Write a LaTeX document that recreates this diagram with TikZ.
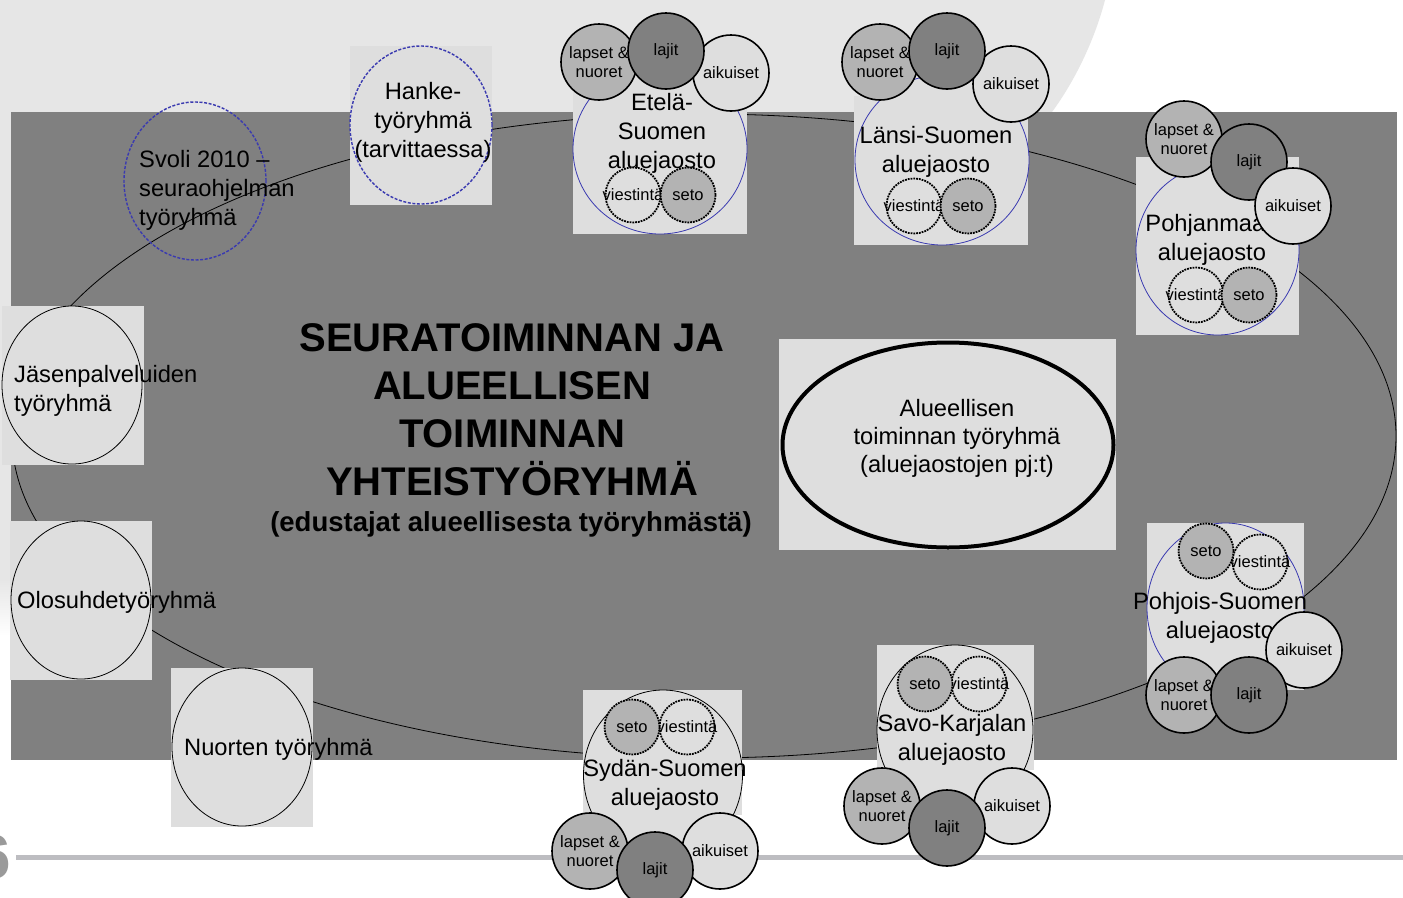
\documentclass[tikz,border=0pt]{standalone}
\usepackage{fontspec}
\setmainfont{Liberation Sans}
\usetikzlibrary{shapes.geometric}
\definecolor{bgl}{HTML}{E6E6E6}
\definecolor{rectg}{HTML}{808080}
\definecolor{lite}{HTML}{DEDEDE}
\definecolor{midg}{HTML}{B3B3B3}
\definecolor{dark}{HTML}{808080}
\definecolor{blu}{HTML}{3A3AB0}
\definecolor{lineg}{HTML}{BDBDC1}
\definecolor{numg}{HTML}{9A9A9A}
\begin{document}
\begin{tikzpicture}[x=1pt,y=-1pt,
  lbl/.style={font=\fontsize{23.7}{29}\selectfont, inner sep=0pt, align=center, yshift=-2pt},
  sml/.style={font=\fontsize{16.5}{19}\selectfont, inner sep=0pt, align=center},
  subc/.style={circle, draw=black, line width=1.6pt, minimum size=76pt, inner sep=0pt, sml},
  dotc/.style={circle, draw=black, line width=1.8pt, densely dotted, minimum size=55pt, inner sep=0pt, sml},
  big/.style={ellipse, draw=blu, line width=0.8pt, fill=lite, inner sep=0pt},
  bigk/.style={ellipse, draw=black, line width=0.8pt, fill=lite, inner sep=0pt},
  grp/.style={ellipse, draw=black, line width=0.8pt, fill=lite, minimum width=140pt, minimum height=158pt, inner sep=0pt},
  dsh/.style={ellipse, draw=blu, line width=1.4pt, dash pattern=on 3pt off 1.6pt, minimum width=142pt, minimum height=158pt, inner sep=0pt},
  ring/.style={draw=black, line width=0.8pt},
]
\useasboundingbox (0,0) rectangle (1403,897);
% background
\fill[white] (0,0) rectangle (1403,897);
\fill[bgl] (0,0) -- (1105,0) .. controls (1094,42) and (1074,82) .. (1052,112) -- (1052,580) -- (0,580) -- cycle;
\shade[top color=bgl, bottom color=white] (0,579) rectangle (12,636);
\fill[rectg] (11,112) rectangle (1397,760);
\draw[lineg, line width=5pt] (16,857.5) -- (1403,857.5);
\node[anchor=east, text=numg, font=\bfseries\fontsize{62}{62}\selectfont, inner sep=0pt] (pnum) at (11,857) {6};

% connecting ring
\coordinate (ring0) at (704,436);
\draw[ring] (ring0) ellipse [x radius=692pt, y radius=322pt];

% main title
\node[font=\bfseries\fontsize{40}{48}\selectfont, align=center, inner sep=0pt] (title) at (512,410) {SEURATOIMINNAN JA\\ALUEELLISEN\\TOIMINNAN\\YHTEISTYÖRYHMÄ};
\node[font=\bfseries\fontsize{27.5}{33}\selectfont, inner sep=0pt] (subt) at (511,524) {(edustajat alueellisesta työryhmästä)};

% Alueellisen toiminnan tyoryhma
\fill[lite] (779,339) rectangle (1116,550);
\node[ellipse, draw=black, line width=4pt, fill=lite, minimum width=331pt, minimum height=205pt, inner sep=0pt] (alu) at (948,445) {};
\node[lbl, font=\fontsize{23.7}{28}\selectfont] (alut) at (957,436) {Alueellisen\\toiminnan työryhmä\\(aluejaostojen pj:t)};

% left groups
\fill[lite] (2,306) rectangle (144,465);
\node[grp] (jas) at (72,385) {};
\node[lbl, anchor=west, align=left] (jast) at (14,389) {Jäsenpalveluiden\\työryhmä};
\fill[lite] (10,521) rectangle (152,680);
\node[grp] (olo) at (81,600) {};
\node[lbl, anchor=west] (olot) at (17,600) {Olosuhdetyöryhmä};
\fill[lite] (171,668) rectangle (313,827);
\node[grp] (nuo) at (242,747) {};
\node[lbl, anchor=west] (nuot) at (184,747) {Nuorten työryhmä};

% Svoli
\node[dsh] (svo) at (195,181) {};
\node[lbl, anchor=west, align=left] (svot) at (139,188) {Svoli 2010 –\\seuraohjelman\\työryhmä};
% Hanke
\fill[lite] (350,46) rectangle (492,205);
\node[dsh] (han) at (421,125) {};
\node[lbl] (hant) at (423,120) {Hanke-\\työryhmä\\(tarvittaessa)};

% Etela-Suomen
\fill[lite] (573,92) rectangle (747,234);
\node[big, minimum width=174pt, minimum height=170pt] (ete) at (660,149) {};
\node[lbl] (etet) at (662,131) {Etelä-\\Suomen\\aluejaosto};
\node[dotc, fill=lite] (etev) at (633,195) {\makebox[0pt]{viestintä}};
\node[dotc, fill=midg] (etes) at (688,195) {\makebox[0pt]{seto}};
\node[subc, fill=midg] (etel) at (599,62) {lapset \&\\nuoret};
\node[subc, fill=lite] (etea) at (731,73) {aikuiset};
\node[subc, fill=dark] (etej) at (666,51) {lajit};

% Lansi-Suomen
\fill[lite] (854,96) rectangle (1028,245);
\node[big, minimum width=174pt, minimum height=170pt] (lan) at (942,160) {};
\node[lbl] (lant) at (936,149.5) {Länsi-Suomen\\aluejaosto};
\node[dotc, fill=lite] (lanv) at (914,206) {\makebox[0pt]{viestintä}};
\node[dotc, fill=midg] (lans) at (968,206) {\makebox[0pt]{seto}};
\node[subc, fill=midg] (lanl) at (880,62) {lapset \&\\nuoret};
\node[subc, fill=lite] (lana) at (1011,84) {aikuiset};
\node[subc, fill=dark] (lanj) at (947,51) {lajit};

% Pohjanmaan
\fill[lite] (1136,157) rectangle (1299,335);
\node[big, minimum width=163pt, minimum height=170pt] (pma) at (1217.5,250) {};
\node[lbl] (pmat) at (1212,238) {Pohjanmaan\\aluejaosto};
\node[dotc, fill=lite] (pmav) at (1196,295) {\makebox[0pt]{viestintä}};
\node[dotc, fill=midg] (pmas) at (1249,295) {\makebox[0pt]{seto}};
\node[subc, fill=midg] (pmal) at (1184,139) {lapset \&\\nuoret};
\node[subc, fill=dark] (pmaj) at (1249,162) {lajit};
\node[subc, fill=lite] (pmaa) at (1293,206) {aikuiset};

% Pohjois-Suomen
\fill[lite] (1147,523) rectangle (1304,690);
\node[big, minimum width=157pt, minimum height=170pt] (poh) at (1225.5,608) {};
\node[lbl] (poht) at (1220,615.5) {Pohjois-Suomen\\aluejaosto};
\node[dotc, fill=lite] (pohv) at (1260,562) {\makebox[0pt]{viestintä}};
\node[dotc, fill=midg] (pohs) at (1206,551) {\makebox[0pt]{seto}};
\node[subc, fill=lite] (poha) at (1304,650) {aikuiset};
\node[subc, fill=midg] (pohl) at (1184,695) {lapset \&\\nuoret};
\node[subc, fill=dark] (pohj) at (1249,695) {lajit};

% Savo-Karjalan
\fill[lite] (877,645) rectangle (1034,770);
\node[bigk, minimum width=156pt, minimum height=170pt] (sav) at (955,730) {};
\node[lbl] (savt) at (952,738) {Savo-Karjalan\\aluejaosto};
\node[dotc, fill=lite] (savv) at (979,684) {\makebox[0pt]{viestintä}};
\node[dotc, fill=midg] (savs) at (925,684) {\makebox[0pt]{seto}};
\node[subc, fill=midg] (savl) at (882,806) {lapset \&\\nuoret};
\node[subc, fill=lite] (sava) at (1012,806) {aikuiset};
\node[subc, fill=dark] (savj) at (947,828) {lajit};

% Sydan-Suomen
\fill[lite] (583,690) rectangle (742,815);
\node[bigk, minimum width=159pt, minimum height=170pt] (syd) at (663,775) {};
\node[lbl] (sydt) at (665,782.5) {Sydän-Suomen\\aluejaosto};
\node[dotc, fill=lite] (sydv) at (687,727) {\makebox[0pt]{viestintä}};
\node[dotc, fill=midg] (syds) at (632,727) {\makebox[0pt]{seto}};
\node[subc, fill=midg] (sydl) at (590,851) {lapset \&\\nuoret};
\node[subc, fill=lite] (syda) at (720,851) {aikuiset};
\node[subc, fill=dark] (sydj) at (655,870) {lajit};
\end{tikzpicture}
\end{document}
